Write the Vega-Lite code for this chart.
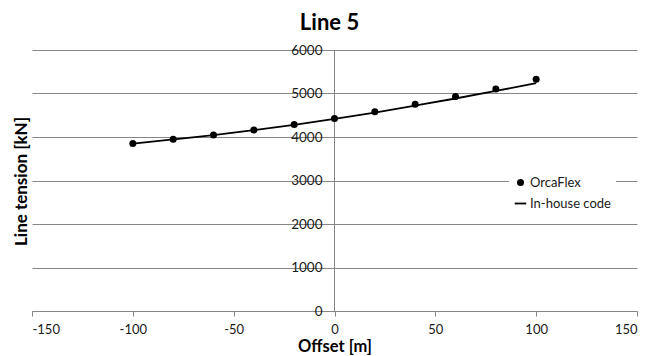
{
  "$schema": "https://vega.github.io/schema/vega-lite/v6.json",
  "width": 605,
  "height": 261,
  "autosize": {"type": "none"},
  "padding": {"left": 32, "top": 50, "right": 25, "bottom": 45},
  "background": "white",
  "config": {
    "font": "Lato",
    "view": {"stroke": null},
    "axis": {"labelFont": "Lato", "titleFont": "Lato", "labelColor": "#1a1a1a", "titleColor": "#000000"}
  },
  "title": {
    "text": "Line 5",
    "font": "Lato",
    "fontSize": 22,
    "fontWeight": "bold",
    "color": "#000000",
    "anchor": "middle",
    "frame": "group",
    "offset": 8,
    "dx": -5
  },
  "data": {
    "values": [
      {"offset": -100, "tension": 3848, "series": "OrcaFlex"},
      {"offset": -80, "tension": 3947, "series": "OrcaFlex"},
      {"offset": -60, "tension": 4046, "series": "OrcaFlex"},
      {"offset": -40, "tension": 4161, "series": "OrcaFlex"},
      {"offset": -20, "tension": 4286, "series": "OrcaFlex"},
      {"offset": 0, "tension": 4424, "series": "OrcaFlex"},
      {"offset": 20, "tension": 4580, "series": "OrcaFlex"},
      {"offset": 40, "tension": 4753, "series": "OrcaFlex"},
      {"offset": 60, "tension": 4931, "series": "OrcaFlex"},
      {"offset": 80, "tension": 5106, "series": "OrcaFlex"},
      {"offset": 100, "tension": 5329, "series": "OrcaFlex"},
      {"offset": -100, "tension": 3850, "series": "In-house code"},
      {"offset": -80, "tension": 3945, "series": "In-house code"},
      {"offset": -60, "tension": 4045, "series": "In-house code"},
      {"offset": -40, "tension": 4158, "series": "In-house code"},
      {"offset": -20, "tension": 4280, "series": "In-house code"},
      {"offset": 0, "tension": 4415, "series": "In-house code"},
      {"offset": 20, "tension": 4562, "series": "In-house code"},
      {"offset": 40, "tension": 4722, "series": "In-house code"},
      {"offset": 60, "tension": 4885, "series": "In-house code"},
      {"offset": 80, "tension": 5058, "series": "In-house code"},
      {"offset": 100, "tension": 5237, "series": "In-house code"}
    ]
  },
  "encoding": {
    "x": {
      "field": "offset",
      "type": "quantitative",
      "scale": {"domain": [-150, 150], "nice": false, "zero": false},
      "axis": {
        "title": "Offset [m]",
        "values": [-150, -100, -50, 0, 50, 100, 150],
        "labelExpr": "datum.value + ''",
        "grid": false,
        "domainColor": "#868686",
        "tickColor": "#868686",
        "tickSize": 5,
        "labelFontSize": 13,
        "labelPadding": 7,
        "titleFontSize": 16.5,
        "titleFontWeight": "bold",
        "titlePadding": 2
      }
    },
    "y": {
      "field": "tension",
      "type": "quantitative",
      "scale": {"domain": [0, 6000], "nice": false},
      "axis": {
        "title": "Line tension [kN]",
        "values": [0, 1000, 2000, 3000, 4000, 5000, 6000],
        "labelExpr": "datum.value + ''",
        "offset": -302,
        "grid": true,
        "gridColor": "#868686",
        "domainColor": "#868686",
        "ticks": false,
        "labelFontSize": 13.5,
        "labelPadding": 12,
        "titleFontSize": 17,
        "titleFontWeight": "bold",
        "titleAngle": -90,
        "titleAlign": "center",
        "titleBaseline": "middle",
        "titleX": -313,
        "titleY": 131
      }
    }
  },
  "layer": [
    {
      "transform": [{"filter": "datum.series === 'In-house code'"}],
      "mark": {"type": "line", "color": "#000000", "strokeWidth": 1.8, "interpolate": "monotone"}
    },
    {
      "transform": [{"filter": "datum.series === 'OrcaFlex'"}],
      "mark": {"type": "point", "filled": true, "color": "#000000", "opacity": 1, "size": 49},
      "encoding": {
        "shape": {
          "field": "series",
          "type": "nominal",
          "scale": {"domain": ["OrcaFlex", "In-house code"], "range": ["circle", "M-1.65,-0.26H1.65V0.26H-1.65Z"]},
          "legend": {
            "title": null,
            "orient": "none",
            "legendX": 477,
            "legendY": 121,
            "fillColor": "white",
            "padding": 5,
            "labelFont": "Lato",
            "labelFontSize": 13,
            "labelColor": "#1a1a1a",
            "labelOffset": 3,
            "rowPadding": 7,
            "symbolSize": 49,
            "symbolFillColor": "#000000",
            "symbolStrokeWidth": 0
          }
        }
      }
    }
  ]
}
